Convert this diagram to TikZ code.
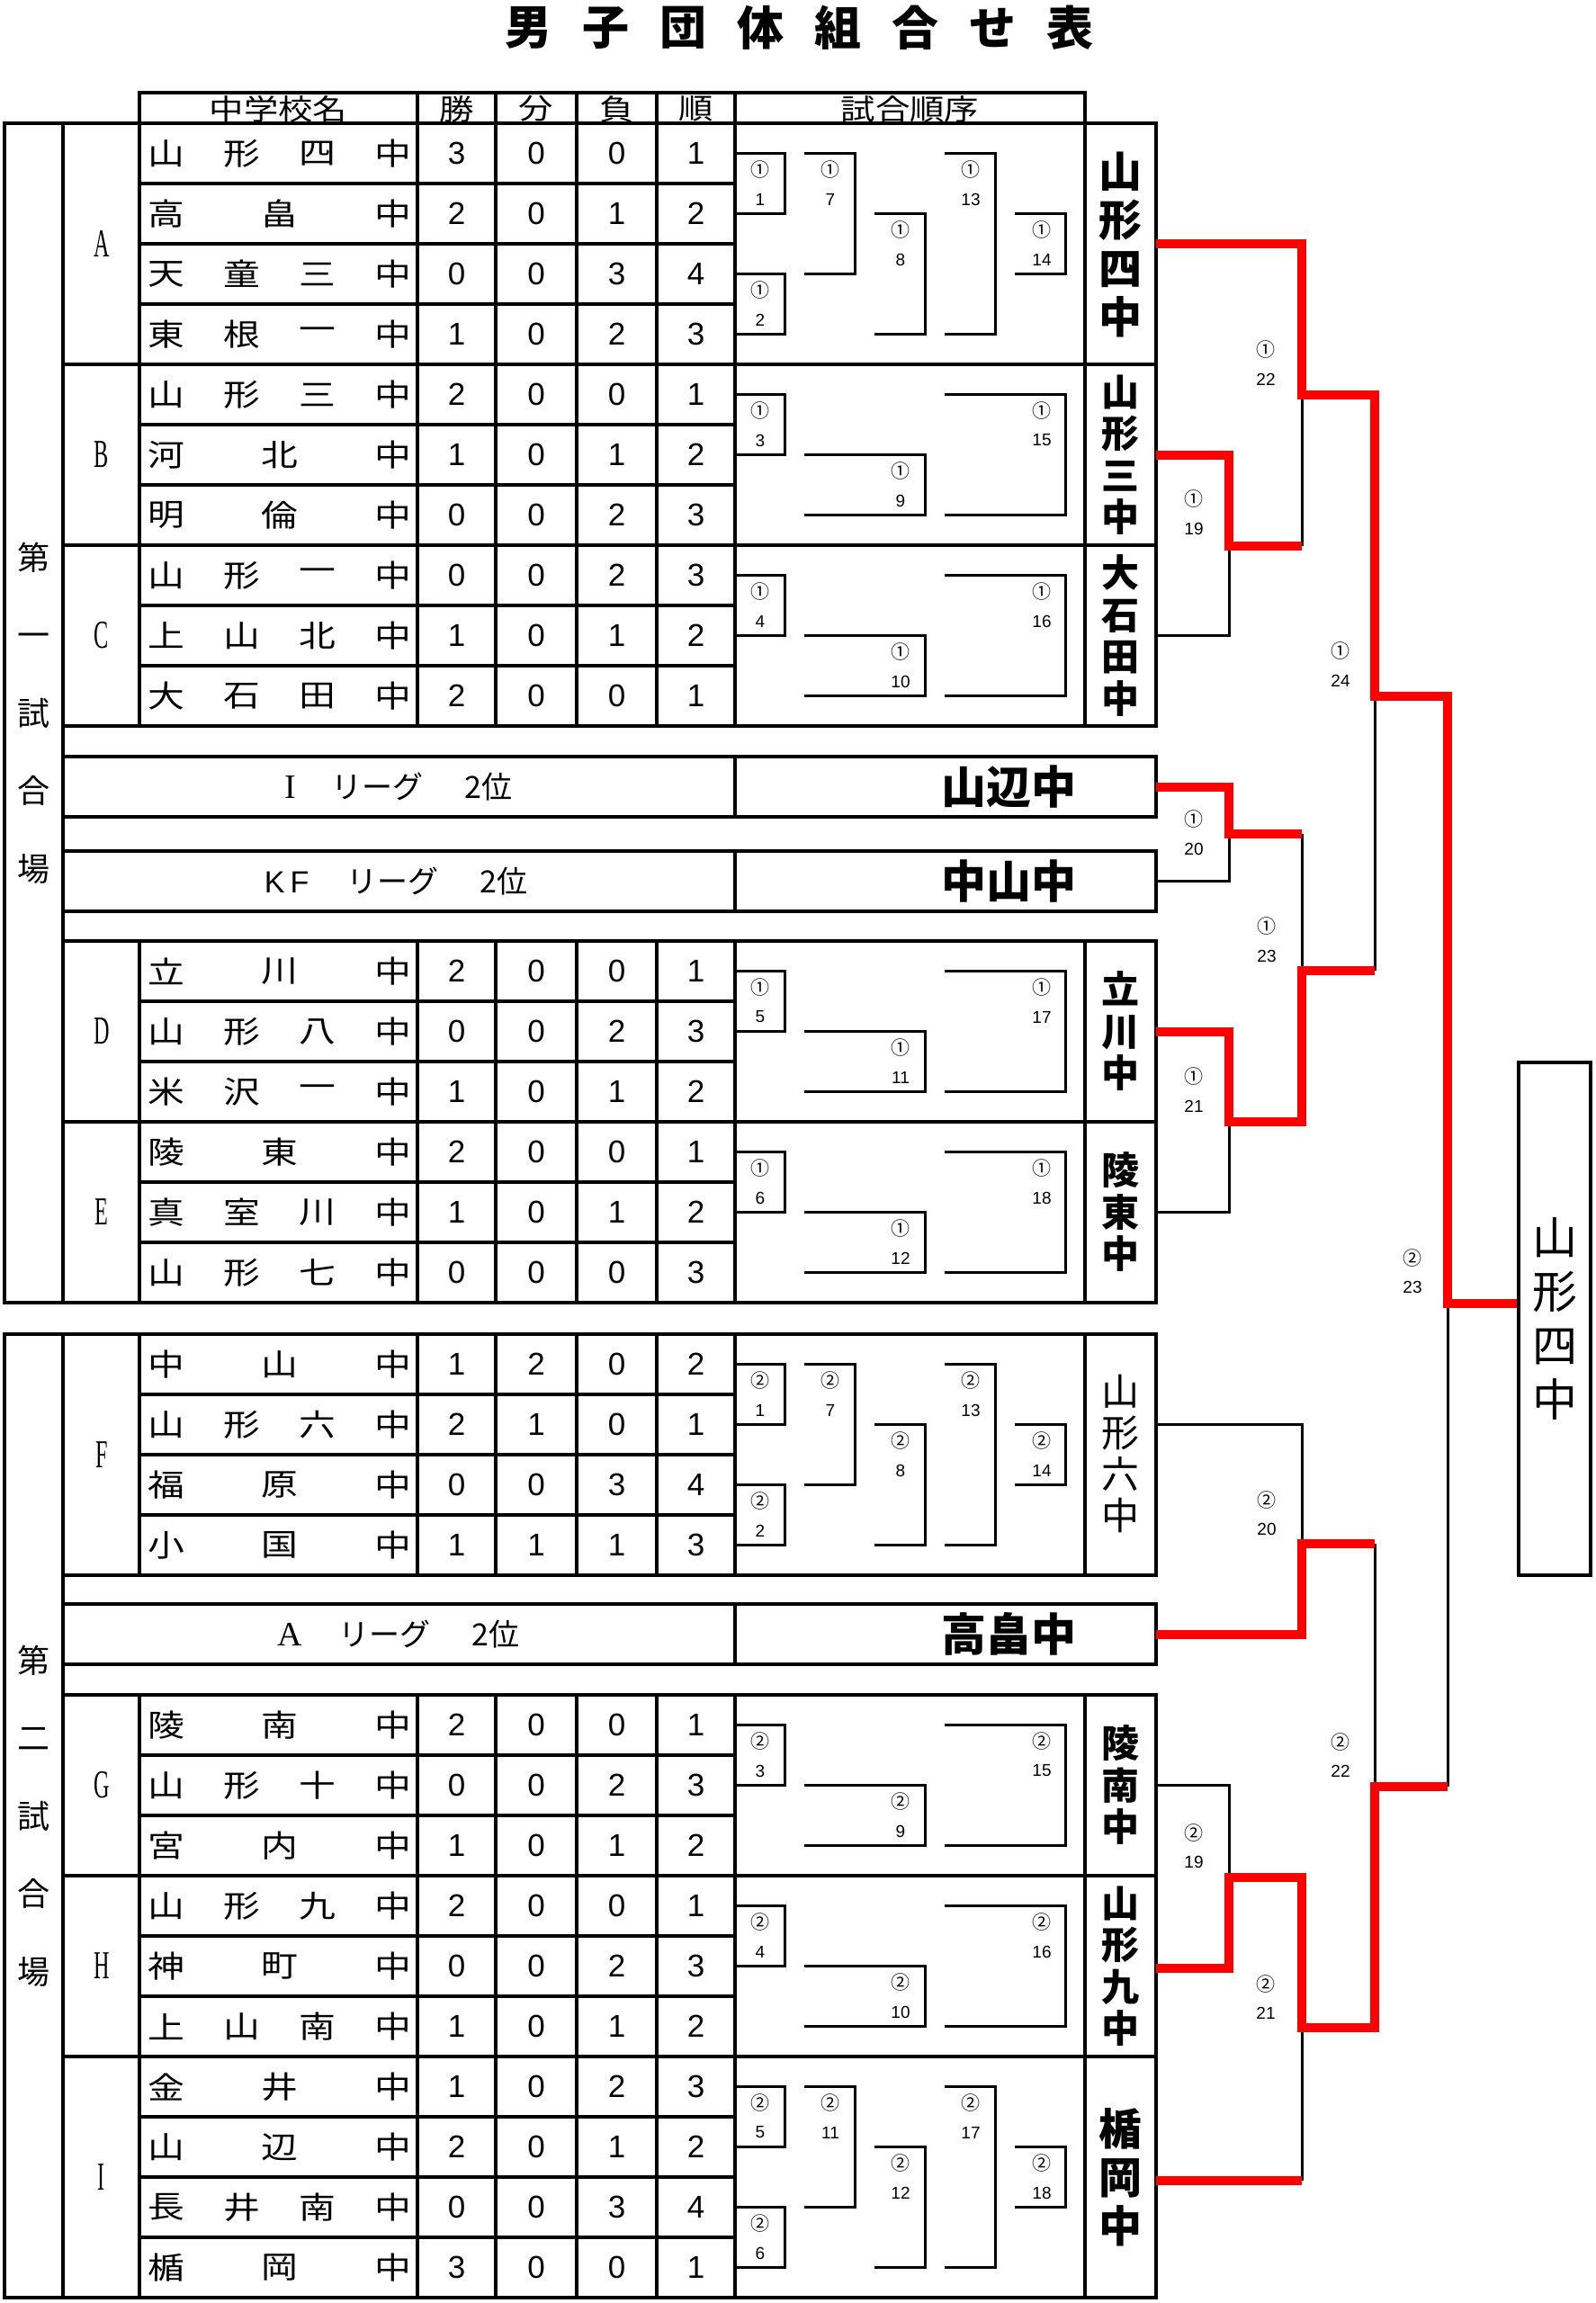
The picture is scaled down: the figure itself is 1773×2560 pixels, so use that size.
\documentclass[tikz,border=0pt]{standalone}
\usepackage{fontspec}
\setmainfont{Noto Sans CJK JP}
\newfontfamily\jpf{Noto Sans CJK JP}
\newfontfamily\jpwide[FakeStretch=1.2]{Noto Sans CJK JP}
\newfontfamily\serfc[FakeStretch=0.55]{Liberation Serif}
\newfontfamily\serfn{Liberation Serif}
\newfontfamily\sanf{Liberation Sans}
\definecolor{wred}{RGB}{255,0,0}
\tikzset{
  tline/.style={line width=1.7pt},
  bline/.style={line width=1.5pt},
  rline/.style={line width=5pt,draw=wred},
  txt/.style={inner sep=0pt,outer sep=0pt},
  namef/.style={txt,font=\jpwide\fontsize{17}{17}\selectfont},
  digf/.style={txt,font=\sanf\fontsize{17.5}{17.5}\selectfont},
  headf/.style={txt,font=\jpwide\fontsize{16}{16}\selectfont},
  letf/.style={txt,font=\serfc\fontsize{22}{22}\selectfont},
  symf/.style={txt,font=\jpf\fontsize{10.5}{10.5}\selectfont},
  nrf/.style={txt,font=\sanf\fontsize{9.5}{9.5}\selectfont},
  venf/.style={txt,align=center,font=\jpf\fontsize{18}{43.25}\selectfont},
  titf/.style={txt,font=\jpf\bfseries\fontsize{26}{26}\selectfont},
  legf/.style={txt,font=\jpf\fontsize{17}{17}\selectfont},
  legb/.style={txt,font=\jpf\bfseries\fontsize{25}{25}\selectfont},
  winbig/.style={txt,align=center,font=\jpf\bfseries\fontsize{24}{27}\selectfont},
  winmid/.style={txt,align=center,font=\jpf\bfseries\fontsize{21}{23.25}\selectfont},
  winreg/.style={txt,align=center,font=\jpf\fontsize{21}{23}\selectfont},
  finbox/.style={draw,line width=1.7pt,inner sep=0pt,minimum width=40pt,minimum height=285pt,align=center,font=\jpf\fontsize{25}{30}\selectfont},
}
\newcommand\mkgroup[5]{%
  \pgfmathsetmacro\gbot{#2+67*#3}%
  \pgfmathsetmacro\gmid{#2+33.5*#3}%
  \pgfmathtruncatemacro\glast{#3-1}%
  \draw[tline] (70,#2) rectangle (1285,\gbot);
  \foreach \xx in {155,464,551,641,730,817,1206}{\draw[tline] (\xx,#2) -- (\xx,\gbot);}
  \foreach \kk in {1,...,\glast}{\draw[tline] (155,{#2+67*\kk}) -- (817,{#2+67*\kk});}
  \node[letf] (#1-let) at (113,\gmid) {#5};
  \foreach \nc/\chs/\wv/\dv/\lv/\rv [count=\ii from 0] in {#4}{%
    \pgfmathsetmacro\yr{#2+33.5+67*\ii}%
    \foreach \ch [count=\jj from 0] in \chs {%
      \pgfmathsetmacro\xc{185+\jj*252/(\nc-1)}%
      \node[namef] (#1-\ii-\jj) at (\xc,\yr) {\ch};
    }
    \node[digf] (#1-\ii-w) at (507.5,\yr) {\wv};
    \node[digf] (#1-\ii-d) at (596,\yr) {\dv};
    \node[digf] (#1-\ii-l) at (685.5,\yr) {\lv};
    \node[digf] (#1-\ii-r) at (773.5,\yr) {\rv};
  }%
}
\newcommand\mlab[5]{%
  \node[symf] (#1-s) at (#2,#3+18) {#4};
  \node[nrf] (#1-n) at (#2,#3+51) {#5};
}
\newcommand\mfour[9]{%
  \pgfmathsetmacro\ca{#2+33.5}\pgfmathsetmacro\cb{#2+100.5}%
  \pgfmathsetmacro\cc{#2+167.5}\pgfmathsetmacro\cd{#2+234.5}%
  \draw[bline] (817,\ca) -- (872,\ca) -- (872,\cb) -- (817,\cb);
  \draw[bline] (817,\cc) -- (872,\cc) -- (872,\cd) -- (817,\cd);
  \draw[bline] (894,\ca) -- (950,\ca) -- (950,\cc) -- (894,\cc);
  \draw[bline] (972,\cb) -- (1028,\cb) -- (1028,\cd) -- (972,\cd);
  \draw[bline] (1050,\ca) -- (1106,\ca) -- (1106,\cd) -- (1050,\cd);
  \draw[bline] (1128,\cb) -- (1184,\cb) -- (1184,\cc) -- (1128,\cc);
  \mlab{#1-ma}{845}{\ca}{#3}{#4}
  \mlab{#1-mb}{845}{\cc}{#3}{#5}
  \mlab{#1-mc}{923}{\ca}{#3}{#6}
  \mlab{#1-md}{1001}{\cb}{#3}{#7}
  \mlab{#1-me}{1079}{\ca}{#3}{#8}
  \mlab{#1-mf}{1158}{\cb}{#3}{#9}
}
\newcommand\mthree[6]{%
  \pgfmathsetmacro\ca{#2+33.5}\pgfmathsetmacro\cb{#2+100.5}%
  \pgfmathsetmacro\cc{#2+167.5}%
  \draw[bline] (817,\ca) -- (872,\ca) -- (872,\cb) -- (817,\cb);
  \draw[bline] (894,\cb) -- (1028,\cb) -- (1028,\cc) -- (894,\cc);
  \draw[bline] (1050,\ca) -- (1184,\ca) -- (1184,\cc) -- (1050,\cc);
  \mlab{#1-ma}{845}{\ca}{#3}{#4}
  \mlab{#1-mb}{1001}{\cb}{#3}{#5}
  \mlab{#1-mc}{1158}{\ca}{#3}{#6}
}
\begin{document}
\begin{tikzpicture}[x=0.5pt,y=-0.5pt]
\fill[white] (0,0) rectangle (1773,2560);
\useasboundingbox (0,0) rectangle (1773,2560);

% title
\foreach \tc [count=\k from 0] in {男,子,団,体,組,合,せ,表}
  \node[titf] (title\k) at ({587+86*\k},31) {\tc};

% header
\draw[tline] (155,103) rectangle (1206,137);
\foreach \xx in {464,551,641,730,817} \draw[tline] (\xx,103) -- (\xx,137);
\node[headf] (h1) at (309.5,121) {中学校名};
\node[headf] (h2) at (507.5,121) {勝};
\node[headf] (h3) at (596,121) {分};
\node[headf] (h4) at (685.5,121) {負};
\node[headf] (h5) at (773.5,121) {順};
\node[headf] (h6) at (1011.5,121) {試合順序};

% venue frames
\draw[tline] (1285,137) -- (5,137) -- (5,1448) -- (1285,1448);
\draw[tline] (70,137) -- (70,1448);
\draw[tline] (1285,1483) -- (5,1483) -- (5,2554) -- (1285,2554);
\draw[tline] (70,1483) -- (70,2554);
\node[venf] (ven1) at (37,792.5) {第\\一\\試\\合\\場};
\node[venf] (ven2) at (37,2018.5) {第\\二\\試\\合\\場};

% groups, first venue
\mkgroup{A}{137}{4}{4/{山,形,四,中}/3/0/0/1, 3/{高,畠,中}/2/0/1/2, 4/{天,童,三,中}/0/0/3/4, 4/{東,根,一,中}/1/0/2/3}{A}
\mfour{A}{137}{①}{1}{2}{7}{8}{13}{14}
\mkgroup{B}{405}{3}{4/{山,形,三,中}/2/0/0/1, 3/{河,北,中}/1/0/1/2, 3/{明,倫,中}/0/0/2/3}{B}
\mthree{B}{405}{①}{3}{9}{15}
\mkgroup{C}{606}{3}{4/{山,形,一,中}/0/0/2/3, 4/{上,山,北,中}/1/0/1/2, 4/{大,石,田,中}/2/0/0/1}{C}
\mthree{C}{606}{①}{4}{10}{16}
\mkgroup{D}{1046}{3}{3/{立,川,中}/2/0/0/1, 4/{山,形,八,中}/0/0/2/3, 4/{米,沢,一,中}/1/0/1/2}{D}
\mthree{D}{1046}{①}{5}{11}{17}
\mkgroup{E}{1247}{3}{3/{陵,東,中}/2/0/0/1, 4/{真,室,川,中}/1/0/1/2, 4/{山,形,七,中}/0/0/0/3}{E}
\mthree{E}{1247}{①}{6}{12}{18}

% league rows
\draw[tline] (70,841) rectangle (1285,908);
\draw[tline] (817,841) -- (817,908);
\node[legf] (lg1) at (443,874.5) {{\serfn\fontsize{19}{19}\selectfont I}\hspace{20pt}リーグ\hspace{23pt}2位};
\node[legb] (lg1w) at (1121,874.5) {山辺中};
\draw[tline] (70,946) rectangle (1285,1013);
\draw[tline] (817,946) -- (817,1013);
\node[legf] (lg2) at (440,979.5) {{\sanf K\hspace{3pt}F}\hspace{21pt}リーグ\hspace{23pt}2位};
\node[legb] (lg2w) at (1121,979.5) {中山中};

% groups, second venue
\mkgroup{F}{1483}{4}{3/{中,山,中}/1/2/0/2, 4/{山,形,六,中}/2/1/0/1, 3/{福,原,中}/0/0/3/4, 3/{小,国,中}/1/1/1/3}{F}
\mfour{F}{1483}{②}{1}{2}{7}{8}{13}{14}
\draw[tline] (70,1783) rectangle (1285,1850);
\draw[tline] (817,1783) -- (817,1850);
\node[legf] (lg3) at (443,1816.5) {{\serfn\fontsize{19}{19}\selectfont A}\hspace{20pt}リーグ\hspace{23pt}2位};
\node[legb] (lg3w) at (1121,1816.5) {高畠中};
\mkgroup{G}{1884}{3}{3/{陵,南,中}/2/0/0/1, 4/{山,形,十,中}/0/0/2/3, 3/{宮,内,中}/1/0/1/2}{G}
\mthree{G}{1884}{②}{3}{9}{15}
\mkgroup{H}{2085}{3}{4/{山,形,九,中}/2/0/0/1, 3/{神,町,中}/0/0/2/3, 4/{上,山,南,中}/1/0/1/2}{H}
\mthree{H}{2085}{②}{4}{10}{16}
\mkgroup{I}{2286}{4}{3/{金,井,中}/1/0/2/3, 3/{山,辺,中}/2/0/1/2, 4/{長,井,南,中}/0/0/3/4, 3/{楯,岡,中}/3/0/0/1}{I}
\mfour{I}{2286}{②}{5}{6}{11}{12}{17}{18}

% group winners
\node[winbig] (wA) at (1245.5,272) {山\\形\\四\\中};
\node[winmid] (wB) at (1245.5,505.5) {山\\形\\三\\中};
\node[winmid] (wC) at (1245.5,706.5) {大\\石\\田\\中};
\node[winmid] (wD) at (1245.5,1146.5) {立\\川\\中};
\node[winmid] (wE) at (1245.5,1347.5) {陵\\東\\中};
\node[winreg] (wF) at (1245.5,1616) {山\\形\\六\\中};
\node[winmid] (wG) at (1245.5,1984.5) {陵\\南\\中};
\node[winmid] (wH) at (1245.5,2185.5) {山\\形\\九\\中};
\node[winbig] (wI) at (1245.5,2420) {楯\\岡\\中};

% final box
\node[finbox] (final) at (1728,1466) {山\\形\\四\\中};

% bracket entry points
\coordinate (oA) at (1285,270.5);
\coordinate (oB) at (1285,505.5);
\coordinate (oC) at (1285,706.5);
\coordinate (oL1) at (1285,874.5);
\coordinate (oL2) at (1285,979.5);
\coordinate (oD) at (1285,1146.5);
\coordinate (oE) at (1285,1347.5);
\coordinate (oF) at (1285,1583);
\coordinate (oLA) at (1285,1816.5);
\coordinate (oG) at (1285,1984.5);
\coordinate (oH) at (1285,2188);
\coordinate (oI) at (1285,2424);
\coordinate (fy) at (0,1449);

% black bracket lines
\draw[bline] (oC) -- (1366,706.5) -- (1366,606.5);
\draw[bline] (1447,438.5) -- (1447,606.5);
\draw[bline] (oL2) -- (1366,979.5) -- (1366,927);
\draw[bline] (1447,927) -- (1447,1079);
\draw[bline] (oE) -- (1366,1347.5) -- (1366,1247);
\draw[bline] (1528,774) -- (1528,1079);
\draw[bline] (1609,1449) -- (1609,1986);
\draw[bline] (oF) -- (1447,1583) -- (1447,1716);
\draw[bline] (1528,1716) -- (1528,1986);
\draw[bline] (oG) -- (1366,1984.5) -- (1366,2087);
\draw[bline] (1447,2424) -- (1447,2254);

% red winner paths
\draw[rline] (oA) -- (1447,270.5) -- (1447,438.5) -- (1528,438.5) -- (1528,774) -- (1609,774) -- (1609,1449) -- (final.west |- fy);
\draw[rline] (oB) -- (1366,505.5) -- (1366,606.5) -- (1447,606.5);
\draw[rline] (oL1) -- (1366,874.5) -- (1366,927) -- (1447,927);
\draw[rline] (oD) -- (1366,1146.5) -- (1366,1247) -- (1447,1247) -- (1447,1079) -- (1528,1079);
\draw[rline] (oLA) -- (1447,1816.5) -- (1447,1716) -- (1528,1716);
\draw[rline] (oH) -- (1366,2188) -- (1366,2087) -- (1447,2087) -- (1447,2254) -- (1528,2254) -- (1528,1986) -- (1609,1986);
\draw[rline] (oI) -- (1447,2424);

% bracket labels
\mlab{r19}{1327}{537}{①}{19}
\mlab{r20}{1327}{893}{①}{20}
\mlab{r21}{1327}{1179}{①}{21}
\mlab{r22}{1407}{371}{①}{22}
\mlab{r23}{1408}{1012}{①}{23}
\mlab{r24}{1490}{706}{①}{24}
\mlab{s23}{1570}{1380}{②}{23}
\mlab{s20}{1408}{1649}{②}{20}
\mlab{s19}{1327}{2019}{②}{19}
\mlab{s22}{1490}{1918}{②}{22}
\mlab{s21}{1407}{2187}{②}{21}
\end{tikzpicture}
\end{document}
